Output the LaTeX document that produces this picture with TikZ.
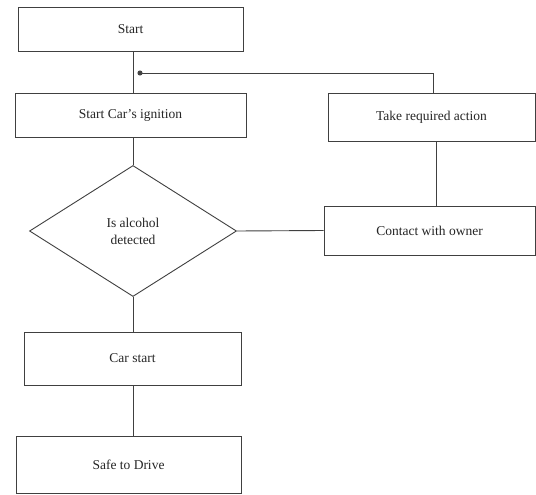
\documentclass[tikz,border=0pt]{standalone}
\usepackage{fontspec}
\setmainfont{Liberation Serif}
\usetikzlibrary{shapes.geometric,arrows.meta}
\begin{document}
\begin{tikzpicture}[x=1pt,y=-1pt,
  box/.style={draw=black!75,line width=0.9pt,minimum height=0pt,inner sep=0pt,text=black!85,font=\fontsize{13.5}{17}\selectfont},
  conn/.style={draw=black!75,line width=0.9pt}]
\useasboundingbox (0,0) rectangle (536,495);
\fill[white] (0,0) rectangle (536,495);
\node[box,minimum width=225pt,minimum height=44pt] (start) at (130.5,29) {Start};
\node[box,minimum width=231pt,minimum height=44pt] (ign) at (130.5,115) {Start Car's ignition};
\node[box,minimum width=207pt,minimum height=48pt] (take) at (431.5,117) {Take required action};
\node[box,shape=diamond,minimum width=207pt,minimum height=131pt,align=center] (dec) at (133,231) {Is alcohol\\detected};
\node[box,minimum width=211pt,minimum height=49pt] (contact) at (429.5,230.5) {Contact with owner};
\node[box,minimum width=217pt,minimum height=53pt] (car) at (132.5,358.5) {Car start};
\node[box,minimum width=225pt,minimum height=57pt] (safe) at (128.5,464.5) {Safe to Drive};
\coordinate (j) at (137.5,73);
\draw[conn] (start.south -| 133,0) -- (ign.north -| 133,0);
\draw[conn,-{Circle[length=5pt]}] (take.north -| 433,0) |- (j);
\draw[conn] (ign.south -| 133,0) -- (dec.north);
\draw[conn] (take.south -| 436,0) -- (contact.north -| 436,0);
\draw[conn] (dec.east) -- (contact.west);
\draw[conn] (dec.south) -- (car.north -| 133,0);
\draw[conn] (car.south -| 133,0) -- (safe.north -| 133,0);
\end{tikzpicture}
\end{document}
